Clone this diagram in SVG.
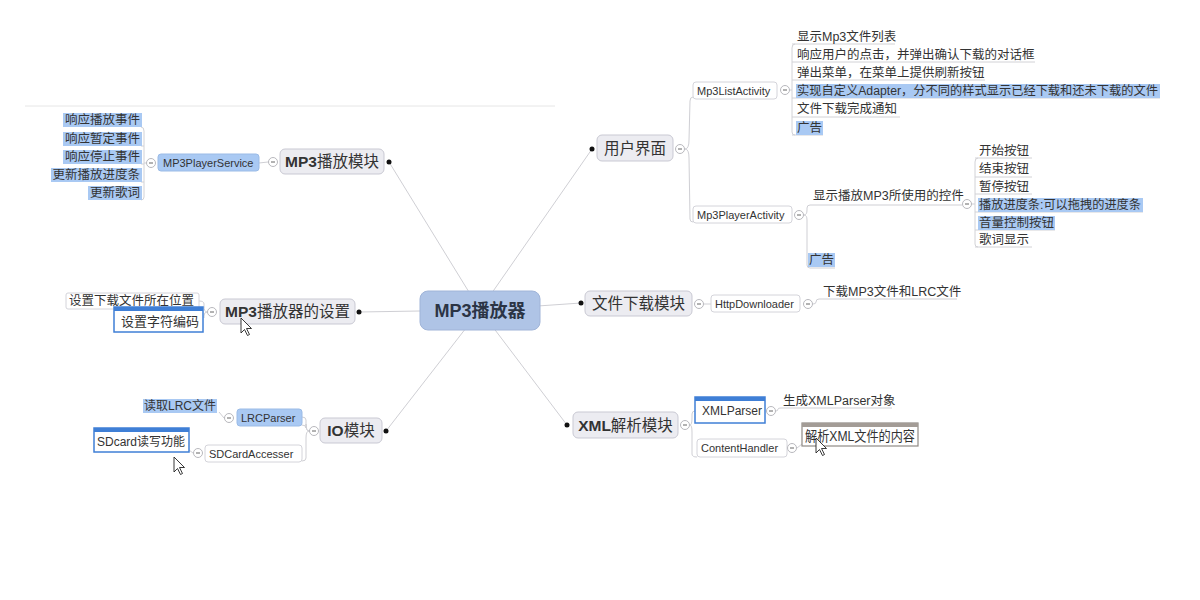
<svg xmlns="http://www.w3.org/2000/svg" width="1200" height="600" viewBox="0 0 1200 600">
<style>
text{font-family:"Liberation Sans","Noto Sans CJK SC",sans-serif;fill:#333}
.t1{font-size:15.5px}
.t0{font-size:18px;font-weight:bold;fill:#2b3445}
.t2{font-size:11px}
.t3{font-size:12.5px}
.b{font-weight:bold}
.r1{fill:#ececf1;stroke:#c9c9d3;stroke-width:1}
.r2{fill:#fff;stroke:#d4d4da;stroke-width:1}
.r2b{fill:#a9c9f3;stroke:#9bbbe6;stroke-width:1}
.hl{fill:#a9c9f3}
.eb{fill:#fff;stroke:#3f7fd6;stroke-width:1.5}
.ebt{fill:#3f7fd6}
.ln{stroke:#cfcfd4;stroke-width:1;fill:none}
.ul{stroke:#d2d2d6;stroke-width:1;fill:none}
.dot{fill:#111}
.cc{fill:#fff;stroke:#b8b8bd;stroke-width:1}
.cm{stroke:#666;stroke-width:1}
.cur{fill:#fff;stroke:#222;stroke-width:0.9}
</style>
<defs>
<g id="col"><circle class="cc" r="4.5"/><line class="cm" x1="-2" y1="0" x2="2" y2="0"/></g>
<polygon id="arrow" class="cur" points="0,0 0,15 3.5,11.5 6.5,17.5 8.5,16.5 5.5,10.5 10.5,10.5"/>
</defs>
<rect width="1200" height="600" fill="#fff"/>
<line x1="25" y1="106" x2="555" y2="106" stroke="#e6e6e6" stroke-width="1"/>

<g id="connectors">
<line class="ln" x1="480" y1="310" x2="592" y2="149"/>
<line class="ln" x1="480" y1="310" x2="581" y2="303"/>
<line class="ln" x1="480" y1="310" x2="567" y2="425"/>
<line class="ln" x1="480" y1="310" x2="389" y2="162"/>
<line class="ln" x1="480" y1="310" x2="359" y2="312"/>
<line class="ln" x1="480" y1="310" x2="386" y2="431"/>
<path class="ln" d="M685,149 Q689,149 689,140 L690,101 Q690,97 693,97"/>
<path class="ln" d="M685,149 Q689,149 689,158 L690,219 Q690,222 693,222"/>
<line class="ln" x1="704" y1="304" x2="711" y2="304"/>
<path class="ln" d="M690,425 Q692,425 692,418 L692,414 Q692,411 695,411"/>
<path class="ln" d="M690,425 Q692,425 692,432 L692,454 Q692,457 697,457"/>
<line class="ln" x1="259" y1="163" x2="268" y2="162"/>
<path class="ln" d="M207,312 Q204,312 204,306 L204,304 Q204,301 199,301"/>
<path class="ln" d="M207,312 Q204,312 204,316 L204,318"/>
<path class="ln" d="M309,431 Q306,431 306,424 L306,428 Q306,425 302,425"/>
<path class="ln" d="M309,431 Q306,431 306,424 L306,420 Q306,417 302,417"/>
<path class="ln" d="M309,431 Q306,431 306,438 L306,458 Q306,461 302,461"/>
<line class="ln" x1="224" y1="418" x2="219" y2="412"/>
<line class="ln" x1="193" y1="453" x2="189" y2="450"/>
<line class="ln" x1="790" y1="90" x2="792" y2="90"/>
<path class="ul" d="M795,44 Q792,44 792,48 L792,132 Q792,135 795,135"/>
<line class="ul" x1="792" y1="44" x2="895" y2="44"/>
<line class="ul" x1="792" y1="62" x2="1035" y2="62"/>
<line class="ul" x1="792" y1="80" x2="985" y2="80"/>
<line class="ul" x1="792" y1="98" x2="1160" y2="98"/>
<line class="ul" x1="792" y1="117" x2="900" y2="117"/>
<line class="ul" x1="792" y1="135" x2="823" y2="135"/>
<path class="ln" d="M804,215 Q807,215 807,210 L807,208 Q807,205 810,205 L962,205"/>
<path class="ln" d="M804,215 Q807,215 807,220 L807,265 Q807,268 810,268 L835,268"/>
<line class="ln" x1="972" y1="204" x2="975" y2="204"/>
<path class="ul" d="M978,158 Q975,158 975,162 L975,244 Q975,247 978,247"/>
<line class="ul" x1="975" y1="158" x2="1032" y2="158"/>
<line class="ul" x1="975" y1="177" x2="1032" y2="177"/>
<line class="ul" x1="975" y1="194" x2="1032" y2="194"/>
<line class="ul" x1="975" y1="212" x2="1143" y2="212"/>
<line class="ul" x1="975" y1="230" x2="1055" y2="230"/>
<line class="ul" x1="975" y1="247" x2="1032" y2="247"/>
<path class="ln" d="M813,304 Q816,304 816,302 Q816,299 819,299 L957,299"/>
<path class="ln" d="M776,411 Q778,411 778,409 Q778,408 781,408 L892,408"/>
<line class="ln" x1="797" y1="448" x2="802" y2="444"/>
<line class="ln" x1="146" y1="163" x2="144" y2="163"/>
<path class="ul" d="M141,127 Q144,127 144,131 L144,197 Q144,200 141,200"/>
<line class="ul" x1="141" y1="146" x2="144" y2="146"/>
<line class="ul" x1="141" y1="164" x2="144" y2="164"/>
<line class="ul" x1="141" y1="182" x2="144" y2="182"/>
</g>

<g id="center">
<rect x="420" y="291" width="120" height="39" rx="8" fill="#afc4e6" stroke="#a0b4d8"/>
<text class="t0" x="480" y="317" text-anchor="middle">MP3播放器</text>
</g>

<g id="n-ui">
<circle class="dot" cx="592" cy="149" r="2.5"/>
<rect class="r1" x="597" y="135" width="76" height="26" rx="5"/>
<text class="t1" x="635" y="154" text-anchor="middle">用户界面</text>
<use href="#col" x="680" y="149"/>
</g>
<g id="n-download">
<circle class="dot" cx="581" cy="303" r="2.5"/>
<rect class="r1" x="585" y="291" width="107" height="25" rx="5"/>
<text class="t1" x="638.5" y="309" text-anchor="middle">文件下载模块</text>
<use href="#col" x="699" y="304"/>
</g>
<g id="n-xml">
<circle class="dot" cx="567" cy="425" r="2.5"/>
<rect class="r1" x="573" y="412" width="105" height="26" rx="5"/>
<text class="t1" x="625.5" y="431" text-anchor="middle"><tspan class="b">XML</tspan>解析模块</text>
<use href="#col" x="685" y="425"/>
</g>
<g id="n-play">
<circle class="dot" cx="389" cy="162" r="2.5"/>
<rect class="r1" x="280" y="149" width="104" height="25" rx="5"/>
<text class="t1" x="332" y="167" text-anchor="middle"><tspan class="b">MP3</tspan>播放模块</text>
<use href="#col" x="273" y="162"/>
</g>
<g id="n-settings">
<circle class="dot" cx="359" cy="312" r="2.5"/>
<rect class="r1" x="220" y="299" width="135" height="25" rx="5"/>
<text class="t1" x="287.5" y="317" text-anchor="middle"><tspan class="b">MP3</tspan>播放器的设置</text>
<use href="#col" x="212" y="312"/>
</g>
<g id="n-io">
<circle class="dot" cx="386" cy="431" r="2.5"/>
<rect class="r1" x="320" y="418" width="62" height="25" rx="5"/>
<text class="t1" x="351" y="436" text-anchor="middle"><tspan class="b">IO</tspan>模块</text>
<use href="#col" x="314" y="431"/>
</g>

<g id="n-listact">
<rect class="r2" x="693" y="82" width="84" height="17" rx="3"/>
<text class="t2" x="697" y="94.5">Mp3ListActivity</text>
<use href="#col" x="785" y="90"/>
</g>
<g id="n-playeract">
<rect class="r2" x="693" y="206" width="99" height="17" rx="3"/>
<text class="t2" x="697" y="218.5">Mp3PlayerActivity</text>
<use href="#col" x="799" y="215"/>
</g>
<g id="n-http">
<rect class="r2" x="711" y="295" width="89" height="17" rx="3"/>
<text class="t2" x="715" y="307.5">HttpDownloader</text>
<use href="#col" x="808" y="304"/>
</g>
<g id="n-xmlparser">
<rect class="eb" x="695" y="397" width="70" height="26"/>
<rect class="ebt" x="695" y="397" width="70" height="4"/>
<text class="t2" x="702" y="415" style="font-size:12px">XMLParser</text>
<use href="#col" x="771" y="411"/>
</g>
<g id="n-contenthandler">
<rect class="r2" x="697" y="439" width="90" height="18" rx="3"/>
<text class="t2" x="701" y="452">ContentHandler</text>
<use href="#col" x="792" y="448"/>
</g>
<g id="n-service">
<rect class="r2b" x="158" y="154" width="101" height="17" rx="3"/>
<text class="t2" x="163" y="166.5">MP3PlayerService</text>
<use href="#col" x="151" y="163"/>
</g>
<g id="n-lrcparser">
<rect class="r2b" x="237" y="409" width="65" height="17" rx="3"/>
<text class="t2" x="241" y="421.5">LRCParser</text>
<use href="#col" x="229" y="418"/>
</g>
<g id="n-sdcard">
<rect class="r2" x="205" y="445" width="97" height="17" rx="3"/>
<text class="t2" x="209" y="457.5">SDCardAccesser</text>
<use href="#col" x="198" y="453"/>
</g>

<g id="list-items">
<text class="t3" x="797" y="41">显示Mp3文件列表</text>
<text class="t3" x="797" y="59">响应用户的点击，并弹出确认下载的对话框</text>
<text class="t3" x="797" y="77">弹出菜单，在菜单上提供刷新按钮</text>
<rect class="hl" x="796" y="84" width="364" height="14"/>
<text class="t3" x="797" y="95" textLength="361" lengthAdjust="spacingAndGlyphs">实现自定义Adapter，分不同的样式显示已经下载和还未下载的文件</text>
<text class="t3" x="797" y="113">文件下载完成通知</text>
<rect class="hl" x="796" y="121" width="27" height="14"/>
<text class="t3" x="797" y="132">广告</text>
</g>
<g id="player-items">
<text class="t3" x="813" y="200">显示播放MP3所使用的控件</text>
<rect class="hl" x="808" y="253" width="27" height="14"/>
<text class="t3" x="809" y="264">广告</text>
<use href="#col" x="967" y="204"/>
<text class="t3" x="979" y="155">开始按钮</text>
<text class="t3" x="979" y="173">结束按钮</text>
<text class="t3" x="979" y="191">暂停按钮</text>
<rect class="hl" x="978" y="198" width="165" height="14"/>
<text class="t3" x="979" y="209" textLength="162" lengthAdjust="spacingAndGlyphs">播放进度条:可以拖拽的进度条</text>
<rect class="hl" x="978" y="216" width="77" height="14"/>
<text class="t3" x="979" y="227">音量控制按钮</text>
<text class="t3" x="979" y="244">歌词显示</text>
</g>
<g id="http-item">
<text class="t3" x="823" y="296">下载MP3文件和LRC文件</text>
</g>
<g id="xmlparser-item">
<text class="t3" x="783" y="405">生成XMLParser对象</text>
</g>
<g id="contenthandler-item">
<rect x="802" y="423" width="116" height="23" fill="#fff" stroke="#8f8a85" stroke-width="1.2"/>
<rect x="802" y="423" width="116" height="4" fill="#a39c96"/>
<text class="t3" x="805" y="441" style="font-size:14px" textLength="110" lengthAdjust="spacingAndGlyphs">解析XML文件的内容</text>
</g>
<g id="service-items">
<rect class="hl" x="63" y="113" width="79" height="14"/>
<text class="t3" x="140" y="124" text-anchor="end">响应播放事件</text>
<rect class="hl" x="63" y="132" width="79" height="14"/>
<text class="t3" x="140" y="143" text-anchor="end">响应暂定事件</text>
<rect class="hl" x="63" y="150" width="79" height="14"/>
<text class="t3" x="140" y="161" text-anchor="end">响应停止事件</text>
<rect class="hl" x="51" y="168" width="91" height="14"/>
<text class="t3" x="140" y="179" text-anchor="end">更新播放进度条</text>
<rect class="hl" x="88" y="186" width="54" height="14"/>
<text class="t3" x="140" y="197" text-anchor="end">更新歌词</text>
</g>
<g id="settings-items">
<rect x="66" y="293" width="133" height="16" rx="2" fill="#fff" stroke="#d4d4da"/>
<text class="t3" x="69" y="305">设置下载文件所在位置</text>
<rect class="eb" x="114" y="307" width="89" height="25"/>
<rect class="ebt" x="114" y="307" width="89" height="4"/>
<text class="t3" x="121" y="326" style="font-size:13px">设置字符编码</text>
</g>
<g id="io-items">
<rect class="hl" x="143" y="399" width="74" height="14"/>
<text class="t3" x="144" y="410" style="font-size:12px">读取LRC文件</text>
<rect class="eb" x="94" y="428" width="95" height="24"/>
<rect class="ebt" x="94" y="428" width="95" height="4"/>
<text class="t3" x="97" y="446" textLength="88" lengthAdjust="spacingAndGlyphs">SDcard读写功能</text>
</g>
<g id="cursors">
<use href="#arrow" x="241" y="318"/>
<use href="#arrow" x="174" y="457"/>
<use href="#arrow" x="816" y="438"/>
</g>
</svg>
